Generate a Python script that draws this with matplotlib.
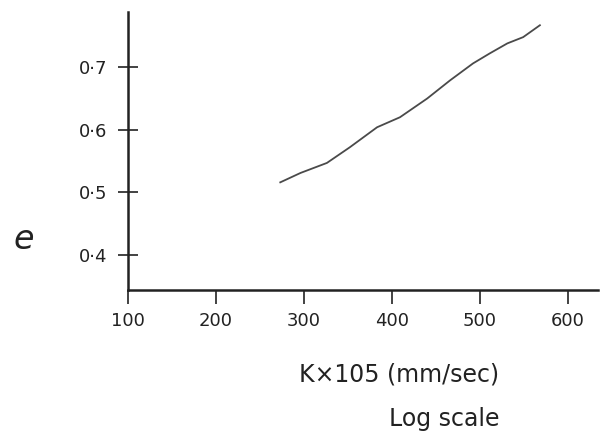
#!/usr/bin/env python3
"""
Croquis : e en fonction de K x 105 (mm/sec), échelle log
"""

import matplotlib.pyplot as plt

k_vals = [273, 296, 326, 352, 383, 409, 440, 466, 492, 511, 531, 549, 568]
e_vals = [0.516, 0.531, 0.547, 0.572, 0.604, 0.620, 0.650,
          0.679, 0.706, 0.722, 0.738, 0.748, 0.767]

x_ticks = [100, 200, 300, 400, 500, 600]
x_labels = ['100', '200', '300', '400', '500', '600']
y_ticks = [0.4, 0.5, 0.6, 0.7]
y_labels = ['0·4', '0·5', '0·6', '0·7']


def creer_croquis():
    fig = plt.figure(figsize=(6.05, 4.48), dpi=100)
    ax = fig.add_axes([0.2116, 0.3527, 0.7768, 0.6203])

    ax.plot(k_vals, e_vals, color='#4a4a4a', linewidth=1.3)

    ax.set_xlim(100, 634)
    ax.set_ylim(0.344, 0.788)

    for side in ['top', 'right']:
        ax.spines[side].set_visible(False)
    for side in ['left', 'bottom']:
        ax.spines[side].set_linewidth(1.8)
        ax.spines[side].set_color('#222222')

    ax.set_xticks(x_ticks)
    ax.set_xticklabels(x_labels, fontsize=13, color='#222222')
    ax.set_yticks(y_ticks)
    ax.set_yticklabels(y_labels, fontsize=13, color='#222222')
    ax.tick_params(axis='x', direction='out', length=10, width=1.2,
                   color='#222222', pad=6)
    ax.tick_params(axis='y', direction='inout', length=14, width=1.2,
                   color='#222222', pad=8)

    fig.text(0.66, 0.163, 'K×105 (mm/sec)', fontsize=17, ha='center',
             va='center', color='#222222')
    fig.text(0.734, 0.065, 'Log scale', fontsize=17, ha='center',
             va='center', color='#222222')
    fig.text(0.04, 0.465, 'e', fontsize=24, style='italic', ha='center',
             va='center', color='#222222')

    fig.savefig('out.png', dpi=100)


if __name__ == "__main__":
    creer_croquis()
